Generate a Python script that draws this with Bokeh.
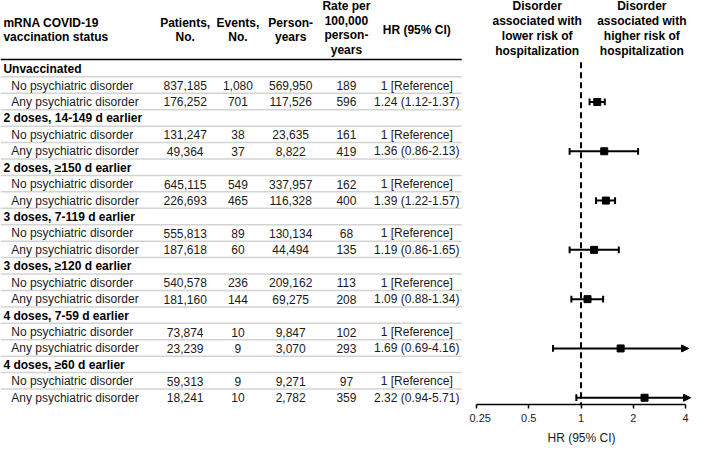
import math
from bokeh.plotting import figure
from bokeh.layouts import row
from bokeh.models import (Range1d, FixedTicker, CustomJSTickFormatter,
                          Arrow, NormalHead, ColumnDataSource)
from bokeh.core.properties import value
from bokeh.embed import file_html
from bokeh.resources import INLINE

# ---------------- data ----------------
groups = ["Unvaccinated", "2 doses, 14-149 d earlier", "2 doses, \u2265150 d earlier",
          "3 doses, 7-119 d earlier", "3 doses, \u2265120 d earlier",
          "4 doses, 7-59 d earlier", "4 doses, \u226560 d earlier"]
sub_labels = ["No psychiatric disorder", "Any psychiatric disorder"]
patients_no = [837185, 131247, 645115, 555813, 540578, 73874, 59313]
patients_any = [176252, 49364, 226693, 187618, 181160, 23239, 18241]
events_no = [1080, 38, 549, 89, 236, 10, 9]
events_any = [701, 37, 465, 60, 144, 9, 10]
pyears_no = [569950, 23635, 337957, 130134, 209162, 9847, 9271]
pyears_any = [117526, 8822, 116328, 44494, 69275, 3070, 2782]
rate_no = [189, 161, 162, 68, 113, 102, 97]
rate_any = [596, 419, 400, 135, 208, 293, 359]
hr = [1.24, 1.36, 1.39, 1.19, 1.09, 1.69, 2.32]
hr_lo = [1.12, 0.86, 1.22, 0.86, 0.88, 0.69, 0.94]
hr_hi = [1.37, 2.13, 1.57, 1.65, 1.34, 4.16, 5.71]
hr_ticks = [0.25, 0.5, 1, 2, 4]
ref_hr = 1
axis_title = "HR (95% CI)"

col_headers = {
    "status": ["mRNA COVID-19", "vaccination status"],
    "patients": ["Patients,", "No."],
    "events": ["Events,", "No."],
    "pyears": ["Person-", "years"],
    "rate": ["Rate per", "100,000", "person-", "years"],
    "hr": ["HR (95% CI)"],
}
lower_hdr = ["Disorder", "associated with", "lower risk of", "hospitalization"]
higher_hdr = ["Disorder", "associated with", "higher risk of", "hospitalization"]

# ---------------- layout (reference pixel units) ----------------
REF_W, FRAME_H = 709, 418
SPLIT = 480                    # boundary between table and forest panels
ROW0, ROW_H = 71, 17
X_LO, X_HI = 487, 701          # positions of the 0.25 and 4 ticks
PPD = (X_HI - X_LO) / 4.0      # pixels per doubling
COLX = {"patients": 189, "events": 243, "pyears": 297, "rate": 354, "hr": 426}
TABLE_R = 472
FONT = value("Liberation Sans")
TXT = "#1a1a1a"
TOTAL_W, FRAME_PX_H, BOTTOM = 693, 404, 44
WA = round(TOTAL_W * SPLIT / REF_W)
WB = TOTAL_W - WA

y_rng = Range1d(FRAME_H, 0)

common = dict(output_backend="svg", toolbar_location=None, y_range=y_rng,
              frame_height=FRAME_PX_H, min_border_left=0, min_border_right=0,
              min_border_top=0, min_border_bottom=BOTTOM)

pa = figure(frame_width=WA, x_range=Range1d(0, SPLIT), x_axis_type=None, y_axis_type=None, **common)

hr_start = 0.25 * 2 ** (-(X_LO - SPLIT) / PPD)
hr_end = 4 * 2 ** ((REF_W - X_HI) / PPD)
pb = figure(frame_width=WB, x_range=Range1d(hr_start, hr_end), x_axis_type="log",
            y_axis_type=None, **common)
pb.extra_x_ranges = {"px": Range1d(SPLIT, REF_W)}
clip = 4 * 2 ** (5 / PPD)

for fig in (pa, pb):
    fig.outline_line_color = None
    fig.background_fill_color = "white"
    fig.border_fill_color = "white"
    fig.grid.visible = False


def txt(fig, xs, ys, texts, align="center", bold=False, size="12px", color=TXT, **kw):
    fig.text(x=xs, y=ys, text=texts, text_font=FONT, text_font_size=size,
             text_align=align, text_baseline="middle", text_color=color,
             text_font_style="bold" if bold else "normal", **kw)


def header(fig, lines, x, y0, dy, align="center", **kw):
    txt(fig, [x] * len(lines), [y0 + dy * i for i in range(len(lines))], lines,
        align=align, bold=True, color="black", **kw)

# ---- table panel ----
header(pa, col_headers["status"], 3, 23, 15, align="left")
header(pa, col_headers["patients"], COLX["patients"], 23, 15)
header(pa, col_headers["events"], COLX["events"], 23, 15)
header(pa, col_headers["pyears"], COLX["pyears"], 23, 15)
header(pa, col_headers["rate"], COLX["rate"], 6, 15)
header(pa, col_headers["hr"], COLX["hr"], 31, 15)

pa.line([0, TABLE_R], [61, 61], line_color="black", line_width=1.5)

n = len(groups)
n_rows = 3 * n
row_y = [ROW0 + ROW_H * i for i in range(n_rows)]
sep_y = [y + 8 for y in row_y[:-1]]
pa.segment(x0=[0] * len(sep_y), x1=[TABLE_R] * len(sep_y), y0=sep_y, y1=sep_y,
           line_color="#d3d3d3", line_width=1.5)

fmt = lambda v: f"{v:,}"
g_y = [row_y[3 * k] for k in range(n)]
no_y = [row_y[3 * k + 1] for k in range(n)]
any_y = [row_y[3 * k + 2] for k in range(n)]

txt(pa, [3] * n, g_y, groups, align="left", bold=True, color="black")
txt(pa, [11] * n, no_y, [sub_labels[0]] * n, align="left")
txt(pa, [11] * n, any_y, [sub_labels[1]] * n, align="left")
for ys, pat, ev, py, rt in [(no_y, patients_no, events_no, pyears_no, rate_no),
                            (any_y, patients_any, events_any, pyears_any, rate_any)]:
    txt(pa, [COLX["patients"]] * n, ys, [fmt(v) for v in pat])
    txt(pa, [COLX["events"]] * n, ys, [fmt(v) for v in ev])
    txt(pa, [COLX["pyears"]] * n, ys, [fmt(v) for v in py])
    txt(pa, [COLX["rate"]] * n, ys, [fmt(v) for v in rt])
txt(pa, [COLX["hr"]] * n, no_y, ["1 [Reference]"] * n)
txt(pa, [COLX["hr"]] * n, any_y, [f"{h:.2f} ({l:.2f}-{u:.2f})" for h, l, u in zip(hr, hr_lo, hr_hi)])

# ---- forest panel ----
header(pb, lower_hdr, 540, 6, 15.5, x_range_name="px")
header(pb, higher_hdr, 648, 6, 15.5, x_range_name="px")

pb.line([ref_hr, ref_hr], [64, FRAME_H], line_color="black", line_width=2, line_dash="6 4")

inside = [k for k in range(n) if hr_hi[k] <= 4]
outside = [k for k in range(n) if hr_hi[k] > 4]

pb.segment(x0=[hr_lo[k] for k in inside], x1=[hr_hi[k] for k in inside],
           y0=[any_y[k] for k in inside], y1=[any_y[k] for k in inside],
           line_color="black", line_width=2)
cap = 3.5
pb.segment(x0=hr_lo, x1=hr_lo, y0=[y - cap for y in any_y], y1=[y + cap for y in any_y],
           line_color="black", line_width=2)
pb.segment(x0=[hr_hi[k] for k in inside], x1=[hr_hi[k] for k in inside],
           y0=[any_y[k] - cap for k in inside], y1=[any_y[k] + cap for k in inside],
           line_color="black", line_width=2)
arrow_src = ColumnDataSource(dict(x0=[hr_lo[k] for k in outside],
                                  x1=[min(hr_hi[k], clip) for k in outside],
                                  y=[any_y[k] for k in outside]))
pb.add_layout(Arrow(x_start="x0", y_start="y", x_end="x1", y_end="y", source=arrow_src,
                    line_color="black", line_width=2,
                    end=NormalHead(size=7, fill_color="black", line_color="black", line_width=1)))
pb.scatter(x=hr, y=any_y, marker="square", size=7, fill_color="black", line_color="black")

ax = pb.xaxis[0]
ax.ticker = FixedTicker(ticks=hr_ticks)
ax.bounds = (hr_ticks[0], hr_ticks[-1])
ax.formatter = CustomJSTickFormatter(code="return tick.toString();")
ax.axis_label = axis_title
ax.axis_line_color = "black"
ax.axis_line_width = 1.5
ax.major_tick_line_color = "black"
ax.major_tick_line_width = 1.5
ax.major_tick_out = 4
ax.major_tick_in = 0
ax.minor_tick_out = 0
ax.minor_tick_in = 0
ax.major_label_standoff = 5
ax.major_label_text_font = "Liberation Sans"
ax.major_label_text_font_size = "11px"
ax.major_label_text_color = TXT
ax.axis_label_standoff = 6
ax.axis_label_text_font = "Liberation Sans"
ax.axis_label_text_font_size = "12px"
ax.axis_label_text_font_style = "normal"
ax.axis_label_text_color = TXT

layout = row(pa, pb, spacing=0)
open("out.html", "w").write(file_html(layout, INLINE))
